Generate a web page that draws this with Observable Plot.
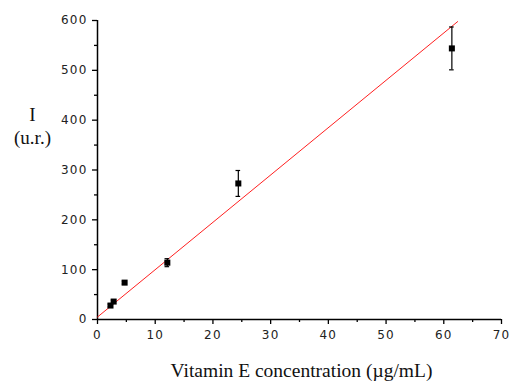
<!DOCTYPE html>
<html>
<head>
<meta charset="utf-8">
<script src="https://cdn.jsdelivr.net/npm/d3@7"></script>
<script src="https://cdn.jsdelivr.net/npm/@observablehq/plot@0.6"></script>
<style>
  html, body { margin: 0; padding: 0; background: #ffffff; }
  #chart svg { display: block; }
  #chart svg g[aria-label$="tick label"] text { letter-spacing: 1.2px; }
</style>
</head>
<body>
<div id="chart"></div>
<script>
// Data
const concentration = [2.25, 2.8, 4.7, 12.1, 24.4, 61.4];
const intensity     = [28, 36, 74, 114, 273, 544];
const errorHalf     = [3, 3, 3, 8, 26, 43];

// Linear fit (red line)
const fitIntercept = 5;
const fitSlope = 9.5;
const fitXRange = [0, 62.4];

const xMajorTicks = [0, 10, 20, 30, 40, 50, 60, 70];
const xMinorTicks = [5, 15, 25, 35, 45, 55, 65];
const yMajorTicks = [0, 100, 200, 300, 400, 500, 600];
const yMinorTicks = [50, 150, 250, 350, 450, 550];

const xTitle = "Vitamin E concentration (\u00b5g/mL)";
const yTitle = "I\n(u.r.)";

const points = concentration.map((c, i) => ({x: c, y: intensity[i], lo: intensity[i] - errorHalf[i], hi: intensity[i] + errorHalf[i]}));
const fitLine = fitXRange.map(x => ({x, y: fitIntercept + fitSlope * x}));
const capW = 0.4;

const tickFont = "DejaVu Sans, Verdana, sans-serif";
const serif = "Liberation Serif, Times New Roman, serif";

const chart = Plot.plot({
  width: 509,
  height: 383,
  marginLeft: 97,
  marginRight: 8,
  marginTop: 20,
  marginBottom: 64,
  style: {background: "#ffffff", fontFamily: tickFont, fontSize: "12px", color: "#222"},
  x: {domain: [0, 70]},
  y: {domain: [0, 600]},
  marks: [
    // axis lines
    Plot.ruleY([0], {stroke: "#000", strokeWidth: 1.5}),
    Plot.ruleX([0], {stroke: "#000", strokeWidth: 1.5}),
    // major axes
    Plot.axisX(xMajorTicks, {tickSize: 5, tickPadding: 6, stroke: "#000", strokeWidth: 1.3, fontSize: 12, fill: "#222", label: null}),
    Plot.axisY(yMajorTicks, {tickSize: 5, tickPadding: 5, stroke: "#000", strokeWidth: 1.3, fontSize: 12, fill: "#222", label: null}),
    // minor ticks
    Plot.axisX(xMinorTicks, {tickSize: 3, stroke: "#000", strokeWidth: 1.3, text: null, label: null}),
    Plot.axisY(yMinorTicks, {tickSize: 3, stroke: "#000", strokeWidth: 1.3, text: null, label: null}),
    // fit line
    Plot.line(fitLine, {x: "x", y: "y", stroke: "#ff2020", strokeWidth: 1}),
    // error bars
    Plot.ruleX(points, {x: "x", y1: "lo", y2: "hi", stroke: "#000", strokeWidth: 1.2}),
    Plot.ruleY(points, {y: "hi", x1: d => d.x - capW, x2: d => d.x + capW, stroke: "#000", strokeWidth: 1.2}),
    Plot.ruleY(points, {y: "lo", x1: d => d.x - capW, x2: d => d.x + capW, stroke: "#000", strokeWidth: 1.2}),
    // markers
    Plot.dot(points, {x: "x", y: "y", symbol: "square", r: 3.4, fill: "#000", stroke: null}),
    // axis titles
    Plot.text([xTitle], {frameAnchor: "bottom", dy: 57, dx: 2, text: d => d, fontFamily: serif, fontSize: 19.5, fill: "#111"}),
    Plot.text([yTitle], {frameAnchor: "left", dx: -65, dy: -45, text: d => d, fontFamily: serif, fontSize: 19, fill: "#111", textAnchor: "middle", lineHeight: 1.2})
  ]
});
document.getElementById("chart").appendChild(chart);
</script>
</body>
</html>
